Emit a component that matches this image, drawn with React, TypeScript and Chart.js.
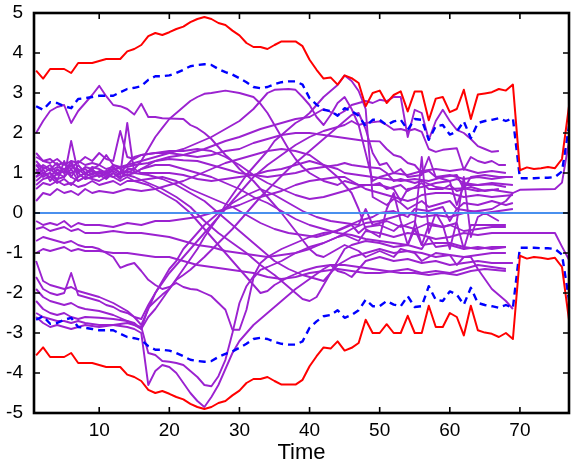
import React, { useEffect, useRef } from 'react';
import { Chart, registerables } from 'chart.js';

Chart.register(...registerables);

const X_TICKS = [10, 20, 30, 40, 50, 60, 70];
const Y_TICKS = [-5, -4, -3, -2, -1, 0, 1, 2, 3, 4, 5];
const X_MIN = 0.7;
const X_MAX = 77;
const X_TITLE = 'Time';
const ZERO_LEVEL = 0;

// upper / lower envelope (red), t = 1..77
const RED_UPPER = [3.56, 3.36, 3.6, 3.6, 3.6, 3.5, 3.75, 3.75, 3.75, 3.8, 3.85, 3.85, 3.85, 4.04, 4.1, 4.2, 4.42, 4.5, 4.45, 4.52, 4.6, 4.66, 4.77, 4.85, 4.9, 4.85, 4.75, 4.7, 4.56, 4.44, 4.25, 4.15, 4.15, 4.1, 4.2, 4.29, 4.29, 4.29, 4.17, 3.83, 3.58, 3.36, 3.39, 3.21, 3.44, 3.37, 3.25, 2.67, 3.0, 3.06, 2.75, 2.95, 3.04, 2.54, 3.04, 3.04, 2.32, 2.86, 2.9, 2.52, 2.6, 3.08, 2.35, 2.96, 2.99, 3.02, 3.1, 3.06, 3.21, 1.07, 1.14, 1.1, 1.12, 1.15, 1.12, 1.35, 2.67];
const RED_LOWER = [-3.56, -3.36, -3.6, -3.6, -3.6, -3.5, -3.75, -3.75, -3.75, -3.8, -3.85, -3.85, -3.85, -4.04, -4.1, -4.2, -4.42, -4.5, -4.45, -4.52, -4.6, -4.66, -4.77, -4.85, -4.9, -4.85, -4.75, -4.7, -4.56, -4.44, -4.25, -4.15, -4.15, -4.1, -4.2, -4.29, -4.29, -4.29, -4.17, -3.83, -3.58, -3.36, -3.39, -3.21, -3.44, -3.37, -3.25, -2.67, -3.0, -3.0, -2.78, -3.0, -3.0, -2.57, -3.0, -3.0, -2.32, -2.85, -2.85, -2.5, -2.6, -3.06, -2.32, -2.93, -2.99, -3.02, -3.1, -3.0, -3.15, -1.07, -1.14, -1.1, -1.12, -1.15, -1.12, -1.35, -2.67];

// dashed band (blue), t = 1..77
const BLUE_UPPER = [2.67, 2.58, 2.77, 2.75, 2.67, 2.62, 2.85, 2.87, 2.9, 2.93, 2.93, 2.93, 3.02, 3.1, 3.13, 3.17, 3.33, 3.42, 3.42, 3.44, 3.5, 3.58, 3.67, 3.7, 3.72, 3.7, 3.6, 3.52, 3.46, 3.37, 3.27, 3.15, 3.12, 3.15, 3.22, 3.27, 3.29, 3.29, 3.21, 2.87, 2.71, 2.58, 2.55, 2.43, 2.62, 2.55, 2.43, 2.17, 2.33, 2.33, 2.2, 2.29, 2.33, 2.08, 2.35, 2.33, 1.83, 2.17, 2.2, 1.96, 2.04, 2.29, 1.87, 2.25, 2.3, 2.33, 2.37, 2.3, 2.37, 0.87, 0.87, 0.87, 0.88, 0.88, 0.9, 1.04, 2.17];
const BLUE_LOWER = [-2.67, -2.58, -2.77, -2.75, -2.67, -2.62, -2.85, -2.87, -2.9, -2.93, -2.93, -2.93, -3.02, -3.1, -3.13, -3.17, -3.33, -3.42, -3.42, -3.44, -3.5, -3.58, -3.67, -3.7, -3.72, -3.7, -3.6, -3.52, -3.46, -3.37, -3.27, -3.15, -3.12, -3.15, -3.22, -3.27, -3.29, -3.29, -3.21, -2.87, -2.71, -2.58, -2.55, -2.43, -2.62, -2.55, -2.43, -2.17, -2.33, -2.33, -2.2, -2.29, -2.33, -2.08, -2.35, -2.33, -1.83, -2.17, -2.2, -1.96, -2.04, -2.29, -1.87, -2.25, -2.3, -2.33, -2.37, -2.3, -2.37, -0.87, -0.87, -0.87, -0.88, -0.88, -0.9, -1.04, -2.17];

// individual trajectories: [time, value]
const P01 = [[1,2.0],[2,2.3],[3,2.55],[4,2.65],[5,2.7],[6,2.25],[7,2.55],[8,2.75],[9,2.95],[10,3.18],[11,2.92],[12,2.7],[13,2.67],[14,2.6],[15,2.46],[16,2.73],[17,2.4],[18,2.4],[19,2.37],[22,2.35],[23,2.2],[24,2.12],[25,2.0],[26,1.85],[27,1.65],[28,1.45],[29,1.3],[30,1.1],[32,0.8],[34,0.4],[36,0.0],[38,-0.45],[40,-0.9],[41,-1.05],[42,-1.1],[43,-1.0],[45,-0.8],[47,-0.95],[48,-1.1],[50,-0.95],[52,-1.1],[53,-0.9],[55,-1.0],[56,-1.2],[58,-1.0],[60,-1.05],[61,-1.3],[62,-1.1],[64,-1.05],[66,-1.0],[68,-1.0]];
const P02 = [[1,1.2],[2,1.0],[3,0.9],[4,1.1],[5,1.0],[6,1.3],[7,0.9],[8,1.0],[9,1.1],[10,0.9],[11,1.0],[12,1.2],[13,1.1],[14,1.0],[15,1.1],[16,1.3],[17,1.6],[18,1.9],[19,2.13],[20,2.35],[21,2.5],[22,2.65],[23,2.8],[24,2.9],[25,2.98],[26,3.0],[28,3.06],[30,3.0],[32,2.9],[33,2.73],[34,2.5],[35,2.2],[36,1.9],[37,1.6],[38,1.35],[39,1.15],[40,1.0],[42,0.8],[44,0.7],[45,0.8],[47,0.7],[49,0.7],[50,0.75],[51,0.6],[53,0.7],[54,0.55],[56,0.75],[57,0.6],[59,0.6],[60,0.7],[61,0.55],[63,0.65],[65,0.55],[67,0.6]];
const P03 = [[1,-1.9],[2,-2.1],[3,-2.2],[4,-2.25],[5,-2.3],[6,-2.25],[7,-2.35],[8,-2.4],[10,-2.45],[12,-2.55],[14,-2.7],[16,-2.9],[17,-2.6],[18,-2.4],[19,-2.15],[20,-1.9],[21,-1.65],[22,-1.4],[23,-1.15],[24,-0.9],[25,-0.6],[26,-0.35],[27,-0.1],[28,0.2],[29,0.45],[30,0.7],[31,0.95],[32,1.15],[33,1.35],[34,1.55],[35,1.8],[36,1.95],[37,2.1],[38,2.25],[39,2.35],[40,2.5],[41,2.7],[42,2.9],[43,3.05],[44,3.2],[45,3.44],[46,3.3],[47,3.05],[48,2.6],[49,0.4],[50,0.3],[51,0.2],[52,0.35],[53,0.25],[54,0.1],[55,0.2],[56,0.3],[57,0.15],[58,0.2],[60,0.3],[61,0.1],[62,0.25],[64,0.2],[66,0.3],[68,0.2],[69,0.25]];
const P04 = [[1,1.3],[2,1.1],[3,1.2],[4,1.0],[5,1.1],[6,0.9],[7,1.2],[8,1.0],[9,1.05],[10,1.0],[12,1.1],[14,1.15],[15,1.2],[17,1.25],[20,1.4],[22,1.45],[25,1.6],[28,1.8],[30,1.9],[33,2.1],[35,2.2],[38,2.35],[40,2.4],[42,2.6],[44,2.45],[45,2.55],[46,2.7],[47,2.75],[48,2.8],[49,2.75],[50,2.83],[51,2.8],[52,2.9],[53,2.9],[54,1.9],[55,2.58],[56,2.5],[57,1.83],[58,2.3],[59,2.58],[60,2.3],[61,2.08],[62,2.0],[63,1.85],[64,1.67],[65,1.6],[66,1.53],[67,1.55]];
const P05 = [[1,-1.6],[2,-1.9],[3,-2.0],[4,-2.05],[5,-2.0],[6,-1.5],[7,-2.05],[8,-2.1],[9,-2.15],[10,-2.2],[11,-2.3],[12,-2.35],[13,-2.45],[14,-2.5],[15,-2.6],[16,-2.65],[17,-2.3],[18,-2.0],[19,-1.75],[20,-1.5],[22,-1.1],[24,-0.7],[26,-0.3],[28,0.1],[30,0.5],[32,0.9],[34,1.2],[36,1.45],[38,1.7],[40,1.9],[42,2.05],[44,2.15],[45,2.2],[46,2.3],[47,2.2],[48,2.25],[50,2.29],[51,2.2],[52,2.08],[53,2.1],[54,2.05],[55,2.1],[56,2.03],[57,1.6],[58,1.53],[59,1.58],[60,1.6],[61,1.62],[62,1.08],[63,1.4],[64,1.3],[65,1.25],[66,1.3],[67,1.2],[68,1.2]];
const P06 = [[1,0.9],[2,1.1],[3,0.8],[4,1.0],[5,0.9],[6,1.1],[7,0.8],[8,0.9],[9,1.0],[10,1.0],[11,0.9],[12,1.1],[13,1.0],[14,1.2],[15,1.4],[16,1.45],[18,1.5],[20,1.5],[22,1.45],[24,1.4],[26,1.45],[28,1.55],[30,1.6],[32,1.75],[34,1.85],[36,1.95],[38,2.0],[40,2.0],[42,1.95],[44,1.9],[46,1.85],[48,1.8],[50,1.79],[51,1.6],[52,1.45],[53,1.4],[54,1.25],[55,1.2],[56,1.0],[57,1.05],[58,0.9],[60,0.8],[61,0.85],[62,0.75],[64,0.7],[66,0.72],[68,0.65]];
const P07 = [[1,0.8],[2,0.95],[3,1.0],[4,0.85],[5,0.9],[6,1.8],[7,1.0],[8,0.85],[9,0.9],[10,0.95],[11,0.85],[12,1.0],[13,0.9],[14,0.95],[15,1.0],[16,1.1],[17,1.2],[18,1.3],[20,1.35],[22,1.32],[24,1.3],[26,1.2],[28,1.1],[30,1.0],[32,0.95],[34,0.9],[36,0.95],[38,1.0],[40,1.1],[42,1.15],[44,1.2],[45,1.25],[46,1.2],[48,1.15],[50,1.12],[51,1.0],[52,0.8],[53,0.85],[55,0.75],[56,0.8],[58,0.65],[60,0.6],[62,0.62],[64,0.55],[66,0.58],[69,0.5]];
const P08 = [[1,-2.5],[2,-2.6],[3,-2.65],[4,-2.7],[5,-2.7],[6,-2.75],[7,-2.7],[8,-2.75],[10,-2.8],[12,-2.8],[14,-2.85],[15,-2.9],[16,-3.0],[17,-4.3],[18,-3.95],[19,-3.8],[20,-3.85],[21,-4.0],[22,-4.25],[23,-4.5],[24,-4.7],[25,-4.85],[26,-4.6],[27,-4.3],[28,-3.9],[29,-3.5],[30,-3.2],[31,-3.0],[32,-2.8],[34,-2.5],[36,-2.2],[38,-1.9],[40,-1.65],[42,-1.4],[43,-1.3],[44,-1.45],[45,-1.5],[46,-1.6],[47,-1.4],[48,-1.2],[50,-1.1],[52,-1.2],[54,-1.15],[56,-1.25],[58,-1.2],[60,-1.3],[62,-1.25],[64,-1.2],[66,-1.25],[69,-1.25]];
const P09 = [[1,-2.6],[2,-2.75],[3,-2.85],[4,-2.8],[5,-2.85],[6,-2.9],[7,-2.85],[8,-2.8],[10,-2.85],[12,-2.8],[14,-2.75],[15,-2.8],[16,-2.85],[17,-3.5],[18,-3.55],[19,-3.7],[20,-3.72],[21,-3.75],[22,-3.8],[23,-3.95],[24,-4.1],[25,-4.3],[26,-4.33],[27,-4.08],[28,-3.67],[29,-3.0],[30,-2.25],[31,-1.83],[32,-1.58],[33,-1.25],[34,-1.1],[36,-0.9],[38,-0.75],[40,-0.6],[42,-0.5],[44,-0.45],[46,-0.3],[47,-0.5],[48,-0.35],[50,-0.3],[52,-0.45],[53,-0.3],[55,-0.4],[57,-0.25],[59,-0.35],[60,-0.3],[62,-0.45],[64,-0.4],[66,-0.35],[68,-0.35]];
const P10 = [[1,-0.7],[2,-0.6],[3,-0.65],[4,-0.7],[5,-0.75],[6,-0.7],[7,-0.8],[8,-0.85],[9,-0.85],[10,-0.9],[11,-1.0],[12,-1.1],[13,-1.37],[14,-1.3],[15,-1.25],[16,-1.45],[17,-1.67],[18,-1.8],[19,-1.9],[20,-1.85],[21,-1.75],[22,-1.85],[23,-1.9],[24,-1.92],[25,-2.0],[26,-2.08],[27,-2.25],[28,-2.42],[29,-2.92],[30,-2.92],[31,-2.42],[32,-1.62],[33,-1.42],[34,-1.35],[36,-1.2],[38,-1.0],[40,-0.85],[42,-0.75],[44,-0.6],[45,-0.55],[47,-0.7],[48,-0.45],[50,-0.5],[52,-0.6],[54,-0.5],[56,-0.55],[58,-0.65],[60,-0.6],[62,-0.5],[64,-0.55],[66,-0.5],[68,-0.5],[69,-0.5],[70,-0.5],[75,-0.5],[76,-0.84],[77,-1.17]];
const P11 = [[1,-2.2],[2,-2.4],[3,-2.5],[4,-2.55],[5,-2.5],[6,-2.6],[7,-2.65],[8,-2.6],[10,-2.62],[12,-2.65],[14,-2.7],[15,-2.75],[16,-2.9],[17,-2.37],[18,-2.2],[19,-2.04],[20,-1.9],[21,-1.67],[22,-1.55],[23,-1.42],[25,-1.1],[27,-0.75],[29,-0.4],[31,0.0],[33,0.4],[35,0.75],[37,1.1],[39,1.4],[41,1.7],[43,2.0],[45,2.3],[46,2.45],[47,2.5],[48,2.1],[49,1.5],[50,1.2],[51,1.25],[52,1.0],[53,1.1],[54,0.9],[56,0.95],[57,1.4],[58,0.9],[60,0.95],[62,0.85],[64,0.9],[66,0.85],[68,0.9]];
const P12 = [[1,-1.2],[2,-1.7],[3,-1.8],[4,-1.85],[5,-1.9],[6,-1.85],[7,-1.95],[8,-2.0],[10,-2.1],[12,-2.25],[14,-2.45],[15,-2.6],[16,-2.8],[17,-2.4],[18,-2.0],[19,-1.7],[20,-1.4],[21,-1.2],[22,-0.9],[23,-0.7],[24,-0.5],[25,-0.3],[27,0.0],[29,0.25],[31,0.45],[33,0.6],[35,0.45],[37,0.25],[39,0.05],[41,-0.1],[43,-0.2],[45,-0.25],[47,-0.3],[48,0.1],[49,-0.3],[51,-0.2],[53,-0.35],[55,-0.2],[56,-0.8],[57,-0.3],[59,-0.35],[61,-0.25],[62,-0.9],[63,-0.3],[65,-0.3],[68,-0.3]];
const P13 = [[1,1.0],[2,1.2],[3,1.1],[4,1.25],[5,1.0],[6,1.2],[7,1.05],[8,1.1],[9,0.95],[10,1.05],[11,1.0],[12,0.9],[13,1.0],[14,1.05],[15,1.0],[17,0.95],[19,0.85],[21,0.7],[23,0.5],[25,0.3],[27,0.0],[29,-0.3],[31,-0.6],[33,-0.9],[35,-1.2],[37,-1.4],[39,-1.55],[41,-1.65],[42,-1.7],[43,-1.5],[44,-1.3],[45,-1.2],[46,-1.1],[48,-1.0],[50,-0.9],[52,-1.0],[54,-0.95],[56,-1.0],[58,-1.1],[60,-1.05],[62,-1.1],[63,-1.1],[64,-1.4],[65,-1.65],[66,-1.9],[67,-2.05],[68,-2.2],[69,-2.4]];
const P14 = [[1,1.4],[2,1.3],[3,1.35],[4,1.2],[5,1.25],[6,1.1],[7,1.3],[8,1.2],[9,1.25],[10,1.2],[11,1.1],[12,1.15],[13,1.0],[14,0.95],[15,0.9],[17,0.75],[19,0.6],[21,0.4],[23,0.15],[25,-0.2],[27,-0.5],[29,-0.75],[31,-1.0],[33,-1.3],[35,-1.55],[37,-1.85],[38,-2.0],[39,-2.15],[40,-2.2],[41,-2.1],[42,-1.8],[43,-1.5],[44,-1.2],[45,-0.9],[46,-0.8],[48,-0.7],[50,-0.75],[52,-0.85],[54,-0.8],[56,-0.9],[57,-0.6],[58,-0.85],[60,-0.8],[62,-0.9],[64,-0.85],[66,-0.9],[68,-0.85]];
const P15 = [[1,0.6],[2,0.75],[3,0.7],[4,0.8],[5,0.7],[6,0.75],[7,0.65],[8,0.7],[9,0.8],[10,0.7],[11,0.75],[12,0.8],[13,0.7],[14,0.8],[15,0.8],[17,0.7],[19,0.5],[21,0.3],[23,0.0],[25,-0.4],[27,-0.8],[29,-1.2],[31,-1.6],[33,-2.0],[34,-1.95],[35,-1.8],[37,-1.6],[39,-1.45],[41,-1.35],[43,-1.3],[45,-1.3],[47,-1.35],[49,-1.4],[51,-1.45],[53,-1.5],[55,-1.5],[57,-1.55],[59,-1.5],[61,-1.55],[63,-1.45],[65,-1.4],[68,-1.45]];
const P16 = [[1,-0.2],[2,-0.3],[3,-0.25],[4,-0.3],[5,-0.2],[6,-0.35],[7,-0.25],[8,-0.3],[10,-0.3],[12,-0.35],[14,-0.25],[16,-0.3],[18,-0.2],[20,-0.2],[22,-0.15],[24,-0.1],[26,0.0],[28,0.1],[30,0.2],[32,0.35],[34,0.45],[36,0.55],[38,0.7],[40,0.8],[42,0.85],[44,0.9],[45,0.9],[46,0.8],[48,0.6],[50,0.5],[52,0.4],[54,0.3],[55,0.35],[56,0.45],[58,0.5],[60,0.5],[62,0.4],[64,0.45],[66,0.4],[69,0.45]];
const P17 = [[1,-0.4],[2,-0.35],[3,-0.45],[4,-0.4],[5,-0.35],[6,-0.45],[7,-0.4],[8,-0.5],[10,-0.5],[12,-0.45],[14,-0.5],[16,-0.5],[18,-0.55],[20,-0.6],[22,-0.7],[24,-0.8],[26,-0.85],[28,-0.95],[30,-1.0],[32,-1.05],[34,-1.1],[36,-1.05],[38,-1.0],[40,-0.9],[42,-0.75],[44,-0.6],[46,-0.4],[48,-0.25],[50,-0.2],[52,-0.1],[54,0.0],[56,-0.1],[58,-0.05],[60,-0.1],[62,0.0],[64,0.05],[66,0.1],[68,0.3],[69,0.5],[70,0.58],[75,0.6],[76,0.76],[77,1.8]];
const P18 = [[1,-1.0],[2,-0.9],[3,-0.95],[4,-0.9],[5,-0.85],[6,-0.95],[7,-0.9],[8,-0.95],[10,-0.95],[12,-1.0],[14,-1.0],[16,-1.05],[18,-1.1],[20,-1.1],[22,-1.2],[24,-1.3],[26,-1.35],[28,-1.4],[30,-1.45],[32,-1.5],[34,-1.6],[36,-1.65],[38,-1.6],[40,-1.5],[42,-1.45],[44,-1.4],[46,-1.45],[48,-1.5],[50,-1.5],[52,-1.45],[54,-1.4],[56,-1.5],[58,-1.45],[60,-1.5],[62,-1.4],[64,-1.3],[66,-1.35],[68,-1.4]];
const P19 = [[1,1.5],[2,1.3],[3,1.25],[4,1.35],[5,1.2],[6,1.3],[7,1.25],[8,1.4],[9,1.3],[10,1.5],[11,1.35],[12,1.3],[13,2.05],[14,1.4],[15,1.35],[16,1.45],[18,1.5],[20,1.55],[22,1.55],[24,1.6],[26,1.55],[28,1.4],[30,1.2],[32,0.95],[34,0.75],[36,0.6],[38,0.45],[40,0.35],[42,0.4],[44,0.5],[46,0.6],[48,0.7],[50,0.7],[52,0.6],[53,0.3],[54,0.6],[56,0.65],[58,0.75],[60,0.8],[61,0.2],[62,0.7],[64,0.7],[66,0.75],[69,0.7]];
const P20 = [[1,0.9],[2,1.0],[3,1.1],[4,0.95],[5,1.05],[6,1.0],[7,1.1],[8,0.95],[9,1.15],[10,1.1],[11,1.0],[12,1.05],[13,0.95],[14,2.25],[15,1.0],[16,1.1],[18,1.2],[20,1.2],[22,1.1],[24,1.0],[26,0.9],[28,0.75],[30,0.6],[32,0.4],[34,0.25],[36,0.05],[38,-0.15],[40,-0.3],[42,-0.4],[44,-0.5],[46,-0.55],[48,-0.65],[50,-0.7],[52,-0.75],[54,-0.8],[55,-0.4],[56,-0.8],[58,-0.75],[60,-0.75],[62,-0.85],[64,-0.9],[66,-0.85],[68,-0.85]];
const P21 = [[1,1.1],[2,0.9],[3,1.0],[4,0.8],[5,1.3],[6,0.9],[7,0.8],[8,0.9],[9,0.85],[10,0.8],[11,0.9],[12,1.0],[13,0.85],[14,1.1],[15,1.1],[16,1.0],[18,1.0],[20,1.0],[22,0.95],[24,0.85],[26,0.8],[28,0.85],[30,0.9],[32,0.95],[34,1.05],[36,1.1],[38,1.2],[40,1.3],[42,1.2],[44,1.1],[45,1.0],[47,0.95],[49,0.9],[51,0.85],[53,0.8],[55,0.85],[57,0.8],[59,0.9],[61,0.95],[62,0.6],[63,0.9],[65,0.95],[67,0.9],[69,0.9]];
const P22 = [[1,0.7],[2,0.85],[3,0.9],[4,0.75],[5,0.85],[6,0.7],[7,0.9],[8,1.0],[9,0.9],[10,1.0],[11,0.95],[12,0.9],[13,0.8],[14,0.9],[15,0.8],[17,0.85],[19,0.9],[21,0.8],[23,0.6],[25,0.45],[27,0.3],[29,0.15],[31,-0.05],[33,-0.25],[35,-0.4],[37,-0.5],[39,-0.55],[41,-0.6],[43,-0.5],[45,-0.35],[47,-0.2],[49,-0.1],[50,0.0],[52,0.05],[54,-0.1],[55,0.1],[57,0.05],[59,0.15],[60,-0.2],[61,0.1],[63,0.05],[65,0.0],[67,0.05],[69,0.1]];
const P23 = [[1,1.2],[2,1.15],[3,1.05],[4,1.15],[5,1.1],[6,1.2],[7,1.0],[8,1.15],[9,1.1],[10,1.2],[11,1.45],[12,1.2],[13,1.15],[14,1.2],[15,1.25],[16,1.3],[18,1.4],[20,1.5],[22,1.6],[24,1.75],[26,1.9],[28,2.1],[30,2.3],[32,2.6],[33,2.8],[34,3.0],[35,3.08],[37,3.1],[38,3.08],[39,2.9],[40,2.7],[41,2.4],[42,2.2],[43,2.45],[44,2.75],[45,2.9],[46,2.6],[47,2.2],[48,1.5],[49,0.8],[50,0.9],[52,1.0],[54,0.95],[56,1.05],[58,1.1],[60,1.05],[62,1.1],[64,1.0],[66,1.05],[68,1.0]];
const P24 = [[1,0.3],[2,0.5],[3,0.45],[4,0.6],[5,0.5],[6,0.55],[7,0.45],[8,0.6],[9,0.5],[10,0.55],[12,0.5],[14,0.6],[16,0.55],[18,0.6],[20,0.7],[22,0.8],[24,0.95],[26,1.1],[28,1.25],[30,1.35],[32,1.45],[34,1.55],[36,1.6],[38,1.55],[40,1.45],[42,1.2],[44,0.9],[46,0.5],[47,0.1],[48,-0.4],[49,-0.5],[50,-0.6],[51,0.1],[52,0.5],[53,-0.2],[54,-0.8],[55,-0.3],[56,1.4],[57,-0.5],[58,0.0],[59,-0.3],[60,-0.9],[61,-0.2],[62,0.9],[63,-0.6],[64,-0.1],[65,0.0],[66,-0.1],[67,-0.2]];

const TRAJECTORIES = [P01, P02, P03, P04, P05, P06, P07, P08, P09, P10, P11, P12, P13, P14, P15, P16, P17, P18, P19, P20, P21, P22, P23, P24];

const RED = '#ff0000';
const BLUE = '#0000ff';
const ZERO_BLUE = '#4a90ee';
const PURPLE = '#9b22d0';
const FONT = "'Liberation Sans', Arial, Helvetica, sans-serif";

const seq = (vals: number[]) => vals.map((v, i) => ({ x: i + 1, y: v }));
const pairs = (arr: number[][]) => arr.map(([x, y]) => ({ x, y }));

const framePlugin = {
  id: 'frameTicks',
  afterDatasetsDraw(chart: any) {
    const { ctx, chartArea, scales } = chart;
    const { left, right, top, bottom } = chartArea;
    const xs = scales.x;
    const ys = scales.y;
    const tl = 6;
    ctx.save();
    ctx.strokeStyle = '#000';
    ctx.lineWidth = 1.6;
    ctx.beginPath();
    X_TICKS.forEach((v) => {
      const px = xs.getPixelForValue(v);
      ctx.moveTo(px, bottom);
      ctx.lineTo(px, bottom - tl);
      ctx.moveTo(px, top);
      ctx.lineTo(px, top + tl);
    });
    Y_TICKS.forEach((v) => {
      const py = ys.getPixelForValue(v);
      ctx.moveTo(left, py);
      ctx.lineTo(left + tl, py);
      ctx.moveTo(right, py);
      ctx.lineTo(right - tl, py);
    });
    ctx.stroke();
    ctx.lineWidth = 2.6;
    ctx.strokeRect(left, top, right - left, bottom - top);
    ctx.restore();
  },
};

export default function App() {
  const ref = useRef<HTMLCanvasElement | null>(null);

  useEffect(() => {
    if (!ref.current) return;
    const datasets: any[] = [
      { data: seq(RED_UPPER), borderColor: RED, borderWidth: 2 },
      { data: seq(RED_LOWER), borderColor: RED, borderWidth: 2 },
      { data: seq(BLUE_UPPER), borderColor: BLUE, borderWidth: 2.4, borderDash: [7, 5] },
      { data: seq(BLUE_LOWER), borderColor: BLUE, borderWidth: 2.4, borderDash: [7, 5] },
      { data: [{ x: X_MIN, y: ZERO_LEVEL }, { x: X_MAX, y: ZERO_LEVEL }], borderColor: ZERO_BLUE, borderWidth: 2 },
      ...TRAJECTORIES.map((t) => ({ data: pairs(t), borderColor: PURPLE, borderWidth: 1.9 })),
    ].map((d) => ({ ...d, pointRadius: 0, fill: false, tension: 0, clip: 0, borderJoinStyle: 'round' }));

    const chart = new Chart(ref.current, {
      type: 'line',
      data: { datasets },
      options: {
        animation: false,
        responsive: false,
        maintainAspectRatio: false,
        layout: { padding: { top: 13, right: 2, left: 0, bottom: 0 } },
        plugins: { legend: { display: false }, tooltip: { enabled: false } },
        scales: {
          x: {
            type: 'linear',
            min: X_MIN,
            max: X_MAX,
            afterBuildTicks: (s: any) => { s.ticks = X_TICKS.map((v) => ({ value: v })); },
            afterFit: (s: any) => { s.height = 53; s.paddingLeft = 0; s.paddingRight = 0; },
            grid: { display: false, drawTicks: false },
            border: { display: false },
            ticks: { color: '#000', font: { family: FONT, size: 19 }, padding: 6, maxRotation: 0, autoSkip: false },
            title: { display: true, text: X_TITLE, color: '#000', font: { family: FONT, size: 22 }, padding: 0 },
          },
          y: {
            type: 'linear',
            min: -5,
            max: 5,
            afterBuildTicks: (s: any) => { s.ticks = Y_TICKS.map((v) => ({ value: v })); },
            afterFit: (s: any) => { s.width = 34; s.paddingTop = 0; s.paddingBottom = 0; },
            grid: { display: false, drawTicks: false },
            border: { display: false },
            ticks: { color: '#000', font: { family: FONT, size: 19 }, padding: 11 },
          },
        },
      },
      plugins: [framePlugin],
    });
    return () => chart.destroy();
  }, []);

  return (
    <div style={{ position: 'absolute', left: 0, top: 0, width: 571, height: 466, background: '#fff' }}>
      <canvas ref={ref} width={571} height={466} style={{ display: 'block', width: 571, height: 466 }} />
    </div>
  );
}
